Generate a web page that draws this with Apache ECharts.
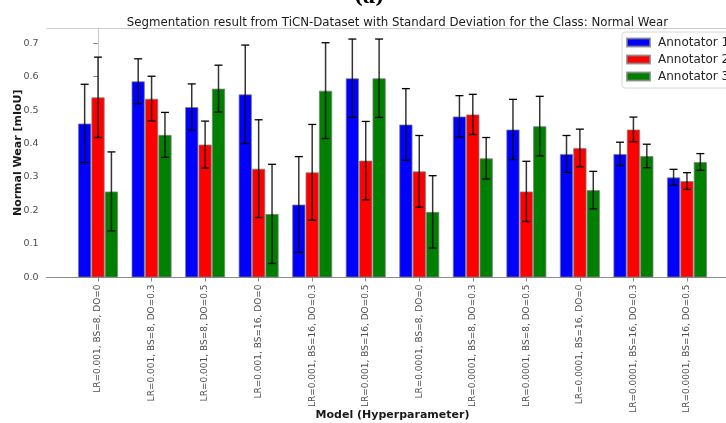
<!DOCTYPE html>
<html>
<head>
<meta charset="utf-8">
<script src="https://cdn.jsdelivr.net/npm/echarts@6/dist/echarts.min.js"></script>
<style>
html,body{margin:0;padding:0;background:#fff;}
#chart{width:726px;height:423px;}
</style>
</head>
<body>
<div id="chart"></div>
<script>
// ---- data ----
var categories = [
  'LR=0.001, BS=8, DO=0', 'LR=0.001, BS=8, DO=0.3', 'LR=0.001, BS=8, DO=0.5',
  'LR=0.001, BS=16, DO=0', 'LR=0.001, BS=16, DO=0.3', 'LR=0.001, BS=16, DO=0.5',
  'LR=0.0001, BS=8, DO=0', 'LR=0.0001, BS=8, DO=0.3', 'LR=0.0001, BS=8, DO=0.5',
  'LR=0.0001, BS=16, DO=0', 'LR=0.0001, BS=16, DO=0.3', 'LR=0.0001, BS=16, DO=0.5'
];
var seriesNames = ['Annotator 1', 'Annotator 2', 'Annotator 3'];
var annot1Mean = [0.460, 0.586, 0.509, 0.547, 0.218, 0.595, 0.457, 0.481, 0.442, 0.369, 0.369, 0.299];
var annot1Std  = [0.117, 0.067, 0.069, 0.147, 0.143, 0.117, 0.107, 0.062, 0.090, 0.055, 0.035, 0.024];
var annot2Mean = [0.538, 0.534, 0.397, 0.325, 0.314, 0.349, 0.317, 0.487, 0.257, 0.387, 0.442, 0.288];
var annot2Std  = [0.120, 0.067, 0.070, 0.146, 0.143, 0.117, 0.107, 0.060, 0.090, 0.056, 0.037, 0.025];
var annot3Mean = [0.257, 0.426, 0.564, 0.190, 0.558, 0.595, 0.196, 0.356, 0.452, 0.261, 0.363, 0.345];
var annot3Std  = [0.118, 0.067, 0.070, 0.148, 0.143, 0.117, 0.108, 0.062, 0.089, 0.056, 0.035, 0.025];
var yTicks = [0.0, 0.1, 0.2, 0.3, 0.4, 0.5, 0.6, 0.7];
var colors = ['#0000ff', '#ff0000', '#008000'];
var xAxisTitle = 'Model (Hyperparameter)';
var yAxisTitle = 'Normal Wear [mIoU]';

var means = [annot1Mean, annot2Mean, annot3Mean];
var stds = [annot1Std, annot2Std, annot3Std];

var BAR_W = 0.25;
var X_MIN = -0.9625, X_MAX = 11.9625;
var GRID_LEFT = 46.5, GRID_WIDTH = 692, GRID_TOP = 28, GRID_HEIGHT = 249.5;
var pxPerUnit = GRID_WIDTH / (X_MAX - X_MIN);
var FONT = 'DejaVu Sans';

var series = [];
means.forEach(function (m, k) {
  series.push({
    name: seriesNames[k],
    type: 'bar',
    barWidth: BAR_W * pxPerUnit,
    barGap: '-100%',
    itemStyle: { color: colors[k], borderColor: 'rgba(128,128,128,0.75)', borderWidth: 1 },
    data: m.map(function (v, i) { return [i + (k - 1) * BAR_W, v]; }),
    z: 2
  });
});
means.forEach(function (m, k) {
  series.push({
    name: seriesNames[k] + ' err',
    type: 'custom',
    z: 5,
    renderItem: function (params, api) {
      var x = api.value(0), lo = api.value(1), hi = api.value(2);
      var p1 = api.coord([x, hi]);
      var p2 = api.coord([x, lo]);
      var cap = 4;
      var st = { stroke: '#000', lineWidth: 1.3 };
      return {
        type: 'group',
        children: [
          { type: 'line', shape: { x1: p1[0], y1: p1[1], x2: p2[0], y2: p2[1] }, style: { stroke: 'rgba(0,0,0,0.8)', lineWidth: 1.5 } },
          { type: 'line', shape: { x1: p1[0] - cap, y1: p1[1], x2: p1[0] + cap, y2: p1[1] }, style: st },
          { type: 'line', shape: { x1: p2[0] - cap, y1: p2[1], x2: p2[0] + cap, y2: p2[1] }, style: st }
        ]
      };
    },
    data: m.map(function (v, i) { return [i + (k - 1) * BAR_W, v - stds[k][i], v + stds[k][i]]; })
  });
});

var chart = echarts.init(document.getElementById('chart'), null, { renderer: 'canvas' });
chart.setOption({
  animation: false,
  backgroundColor: '#fff',
  title: {
    text: 'Segmentation result from TiCN-Dataset with Standard Deviation for the Class: Normal Wear',
    left: GRID_LEFT + GRID_WIDTH / 2, textAlign: 'center', top: 12,
    textStyle: { fontFamily: FONT, fontSize: 11.8, fontWeight: 'normal', color: '#1a1a1a' }
  },
  graphic: [
    { type: 'text', left: 354, top: -11, style: { text: '(a)', font: 'bold 19px "DejaVu Serif"', fill: '#000' } },
    { type: 'line', shape: { x1: GRID_LEFT, y1: GRID_TOP + 0.5, x2: 726, y2: GRID_TOP + 0.5 }, style: { stroke: '#cccccc', lineWidth: 1 } },
    { type: 'text', x: GRID_LEFT + GRID_WIDTH / 2, y: 415.5,
      style: { text: xAxisTitle, font: 'bold 11px "DejaVu Sans"', fill: '#1a1a1a', align: 'center', verticalAlign: 'middle' } },
    { type: 'text', x: 18, y: GRID_TOP + GRID_HEIGHT / 2, rotation: Math.PI / 2,
      style: { text: yAxisTitle, font: 'bold 11px "DejaVu Sans"', fill: '#1a1a1a', align: 'center', verticalAlign: 'middle' } }
  ],
  legend: {
    data: seriesNames,
    orient: 'vertical',
    left: 622, top: 32,
    icon: 'rect',
    itemWidth: 23, itemHeight: 8,
    itemGap: 4,
    padding: [4, 30, 5, 4],
    backgroundColor: '#fff',
    borderColor: '#d6d6d6', borderWidth: 1, borderRadius: 3,
    textStyle: { fontFamily: FONT, fontSize: 12, color: '#262626', lineHeight: 13, padding: [0, 0, 0, 3] }
  },
  grid: { left: GRID_LEFT, top: GRID_TOP, width: GRID_WIDTH, height: GRID_HEIGHT, containLabel: false, outerBoundsMode: 'none' },
  xAxis: {
    type: 'value', min: X_MIN, max: X_MAX,
    splitLine: { show: false },
    axisLine: { show: true, onZero: false, lineStyle: { color: '#8c8c8c', width: 1 } },
    axisTick: { show: true, length: 4, lineStyle: { color: '#8c8c8c' }, customValues: categories.map(function (c, i) { return i; }) },
    axisLabel: {
      customValues: categories.map(function (c, i) { return i; }),
      formatter: function (v) { return categories[Math.round(v)] || ''; },
      rotate: 90, margin: 7,
      fontFamily: FONT, fontSize: 9, color: '#4d4d4d'
    }
  },
  yAxis: {
    type: 'value', min: 0, max: 0.745,
    splitLine: { show: false },
    axisLine: { show: true, lineStyle: { color: '#c8c8c8', width: 1 } },
    axisTick: { show: true, length: 5, lineStyle: { color: '#8c8c8c' }, customValues: yTicks },
    axisLabel: {
      customValues: yTicks,
      formatter: function (v) { return v.toFixed(1); },
      margin: 8, fontFamily: FONT, fontSize: 9.5, color: '#4d4d4d'
    }
  },
  series: series
});
</script>
</body>
</html>
